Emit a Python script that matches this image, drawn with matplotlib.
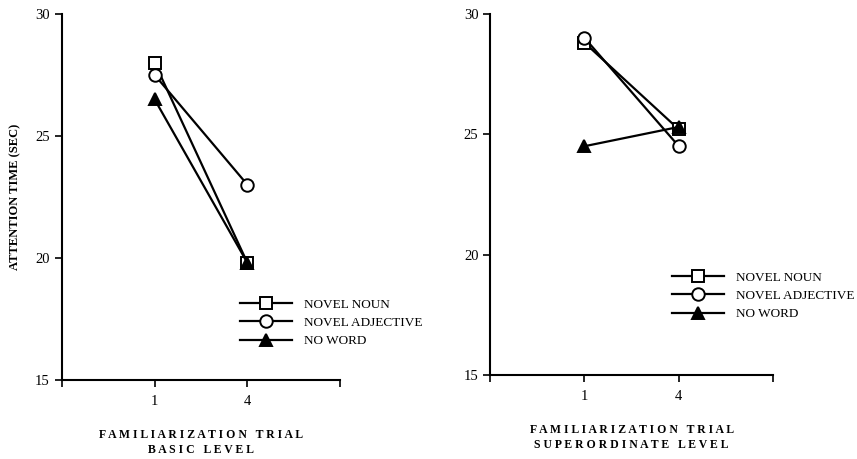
import numpy as np
import matplotlib
matplotlib.use("Agg")
import matplotlib.pyplot as plt

# familiarization trials shown on the x axis
trials = ["1", "4"]
series_names = ["NOVEL NOUN", "NOVEL ADJECTIVE", "NO WORD"]

# attention time (sec), basic level
basic_noun = [28.0, 19.8]
basic_adj = [27.5, 23.0]
basic_none = [26.5, 19.8]

# attention time (sec), superordinate level
super_noun = [28.8, 25.2]
super_adj = [29.0, 24.5]
super_none = [24.5, 25.3]

plt.rcParams['font.family'] = ['Liberation Serif', 'DejaVu Serif']

fig = plt.figure(figsize=(8.57, 4.59), dpi=100)
ax1 = fig.add_axes([0.072, 0.172, 0.325, 0.798])
ax2 = fig.add_axes([0.572, 0.183, 0.330, 0.787])

markers = ['s', 'o', '^']
faces = ['white', 'white', 'black']


def spaced(s):
    # letter-spaced caption like the typeset original
    return "   ".join(" ".join(w) for w in s.split())


def draw_panel(ax, data, xlabel, legend_anchor):
    xpos = np.arange(1, len(trials) + 1)
    for vals, name, m, fc in zip(data, series_names, markers, faces):
        ax.plot(xpos, vals, color='black', lw=1.6, marker=m, markersize=9,
                markerfacecolor=fc, markeredgecolor='black', markeredgewidth=1.4,
                label=name)
    ax.set_xlim(0, 3)
    ax.set_ylim(15, 30)
    ax.set_xticks([0, 1, 2, 3])
    ax.set_xticklabels([""] + trials + [""])
    ax.set_yticks([15, 20, 25, 30])
    ax.tick_params(axis='both', direction='out', length=5, width=1.2,
                   labelsize=10.5)
    ax.tick_params(axis='x', pad=6)
    for side in ['top', 'right']:
        ax.spines[side].set_visible(False)
    for side in ['left', 'bottom']:
        ax.spines[side].set_linewidth(1.5)
    lines = xlabel.split("\n")
    ax.set_xlabel("\n".join(spaced(l) for l in lines), fontsize=8.5,
                  fontweight='bold', labelpad=15, linespacing=1.3)
    ax.legend(loc='center left', bbox_to_anchor=legend_anchor, frameon=False,
              fontsize=9.5, handlelength=4.0, handletextpad=0.9,
              labelspacing=0.45, borderpad=0, markerscale=1.0)


draw_panel(ax1, [basic_noun, basic_adj, basic_none],
           "FAMILIARIZATION TRIAL\nBASIC LEVEL", (0.615, 0.156))
draw_panel(ax2, [super_noun, super_adj, super_none],
           "FAMILIARIZATION TRIAL\nSUPERORDINATE LEVEL", (0.618, 0.219))

fig.text(0.0175, 0.571, "ATTENTION TIME (SEC)", rotation=90, fontsize=9,
         fontweight='bold', ha='center', va='center')

fig.savefig("out.png", dpi=100)
